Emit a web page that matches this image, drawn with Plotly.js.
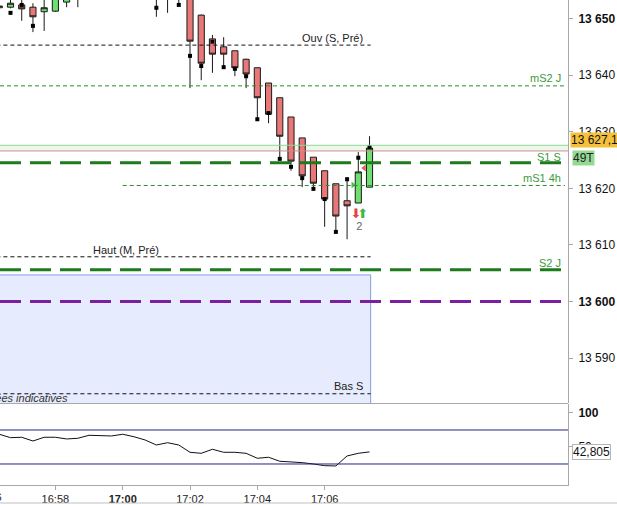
<!DOCTYPE html>
<html><head><meta charset="utf-8">
<script src="https://cdn.plot.ly/plotly-3.0.1.min.js"></script>
<style>html,body{margin:0;padding:0;background:#fff;overflow:hidden}#chart{width:617px;height:505px}</style>
</head><body><div id="chart"></div>
<script>
// ---- data ----
const candleIdx = [-1,0,1,2,3,4,5,6,7,8,9,10,11,12,13,14,15,16,17,18,19,20,21,22,23,24,25,26,27,28,29,30,31,32];
const opens  = [13651.9,13652.0,13652.4,13652.0,13651.2,13651.3,13652.9,13655.8,13657.5,13659.4,13661.0,13659.2,13660.3,13657.1,13656.0,13655.6,13654.4,13655.3,13650.6,13646.4,13645.0,13644.3,13642.8,13641.3,13638.6,13636.0,13632.6,13628.9,13625.5,13623.1,13620.8,13617.8,13617.4,13620.2];
const highs  = [13652.6,13653.8,13653.6,13652.7,13653.6,13655.0,13656.5,13658.4,13660.2,13662.1,13663.0,13661.4,13661.0,13658.9,13657.4,13656.4,13656.0,13656.0,13650.7,13647.1,13646.7,13644.3,13642.9,13641.3,13638.6,13636.0,13632.6,13628.9,13625.5,13623.1,13620.8,13622.0,13626.4,13629.2];
const lows   = [13651.5,13651.8,13649.6,13647.6,13647.8,13651.2,13652.0,13652.0,13655.6,13657.3,13658.4,13656.8,13656.2,13655.0,13650.3,13651.0,13652.4,13637.7,13639.1,13640.4,13641.6,13639.8,13637.7,13632.2,13631.5,13625.2,13623.1,13620.2,13619.9,13613.2,13612.3,13611.0,13617.4,13620.2];
const closes = [13652.2,13652.7,13651.7,13650.3,13651.9,13654.2,13655.8,13657.5,13659.4,13661.0,13659.2,13660.3,13657.1,13656.0,13654.8,13654.4,13655.3,13646.0,13642.1,13643.7,13643.7,13641.3,13640.2,13636.0,13633.1,13629.2,13624.8,13622.2,13620.9,13618.1,13615.1,13616.9,13622.9,13627.1];

const squareIdx   = [0,1,2,13,15,16,17,18,19,20,21,22,23,24,25,26,27,28,29,30,31,32];
const squarePrice = [13651.0,13652.4,13648.7,13651.9,13652.4,13643.4,13641.6,13645.9,13641.4,13641.1,13639.8,13632.2,13633.3,13625.2,13623.8,13621.8,13619.9,13618.1,13612.3,13621.6,13625.4,13627.3];

const oscValues = [68.7,63.7,64.3,58.8,64.3,64.3,61.8,62.8,67.2,66.2,66.2,68.7,65.1,60.3,52.9,56.3,52.9,42.2,40.7,46.6,42.2,42.2,40.7,33.4,34.9,29.0,28.4,27.0,25.0,22.5,22.1,36.8,40.7,42.805];
const oscBands = [75, 25];

const levelNames  = ['Ouv (S, Pré)','mS2 J','S1 S','mS1 4h','Haut (M, Pré)','S2 J','','Bas S'];
const levelValues = [13645.3,13638.1,13624.5,13620.5,13607.9,13605.6,13600.0,13583.7];
const zoneTop = 13604.7;
const bidAsk = [13627.6, 13626.6];
const lastPrice = 13627.1;
const lastLabel = '13 627,1';
const tickCount = '49T';

const priceTicks = [13650,13640,13630,13620,13610,13600,13590];
const priceTickText = ['<b>13 650</b>','13 640','13 630','13 620','13 610','<b>13 600</b>','13 590'];
const oscTicks = [100, 50];
const oscTickText = ['<b>100</b>', '50'];
const timeIdx = [-2,4,10,16,22,28];
const timeText = ['16:56','16:58','<b>17:00</b>','17:02','17:04','17:06'];

const signalIdx = [30.8, 31.4];
const signalPrice = [13615.3, 13615.3];
const signalText = ['⬇','⬆'];
const signalCount = {idx: 31.1, price: 13613.2, text: '2'};
const execIdx = [30.53, 31.53];
const execPrice = [13620.6, 13623.6];

// ---- styles ----
const FONT = 'Liberation Sans, Arial, sans-serif';
const xRange = [-0.936, 49.69];
const yRange = [13582.07, 13653.27];
const y2Range = [-5.9, 113.2];
const GREEN_T = '#2e8b2e', GREEN_K = '#1d7a1d', LBL_G = '#3c9a3c';
const levelStyle = [
  {color:'#111', width:1, dash:'4px,3px', x0:-5, x1:32.1, xref:'x', lx:365/568, la:'right', lc:'#222', dy:7},
  {color:GREEN_T, width:1, dash:'4px,3px', x0:0, x1:565/568, xref:'paper', lx:563/568, la:'right', lc:LBL_G, dy:8},
  {color:GREEN_K, width:3, dash:'21px,9px', x0:0, x1:565/568, xref:'paper', lx:563/568, la:'right', lc:LBL_G, dy:6},
  {color:GREEN_T, width:1, dash:'4px,3px', x0:10, x1:49.42, xref:'x', lx:563/568, la:'right', lc:LBL_G, dy:7},
  {color:'#111', width:1, dash:'4px,3px', x0:-5, x1:32.1, xref:'x', lx:126/568, la:'center', lc:'#222', dy:7},
  {color:GREEN_K, width:3, dash:'21px,9px', x0:0, x1:565/568, xref:'paper', lx:563/568, la:'right', lc:LBL_G, dy:7},
  {color:'#7a1fa0', width:3, dash:'21px,9px', x0:0, x1:1, xref:'paper', lx:0, la:'right', lc:'#000', dy:0},
  {color:'#111', width:1, dash:'4px,3px', x0:-5, x1:32.1, xref:'x', lx:365/568, la:'right', lc:'#222', dy:8}
];

const shapes = [];
shapes.push({type:'rect', xref:'x', yref:'y', x0:-5, x1:32.1, y0:13570, y1:zoneTop,
  fillcolor:'#e6ecfd', line:{color:'#7f9fe0', width:1}, layer:'below'});
shapes.push({type:'rect', xref:'paper', yref:'y', x0:0, x1:1, y0:bidAsk[1], y1:bidAsk[0],
  fillcolor:'rgba(200,235,200,0.35)', line:{width:0}, layer:'below'});
shapes.push({type:'line', xref:'paper', yref:'y', x0:0, x1:1, y0:bidAsk[0], y1:bidAsk[0], line:{color:'#92d892', width:1}});
shapes.push({type:'line', xref:'paper', yref:'y', x0:0, x1:1, y0:bidAsk[1], y1:bidAsk[1], line:{color:'#d48a8a', width:1}});

const annotations = [];
levelValues.forEach((v,k)=>{
  const s = levelStyle[k];
  shapes.push({type:'line', xref:s.xref, yref:'y', x0:s.x0, x1:s.x1, y0:v, y1:v,
    line:{color:s.color, width:s.width, dash:s.dash}});
  if (levelNames[k]) {
    annotations.push({xref:'paper', yref:'y', x:s.lx, y:v, yshift:s.dy, xanchor:s.la, yanchor:'middle',
      text:levelNames[k], showarrow:false, font:{family:FONT, size:11, color:s.lc}});
  }
});
annotations.push({xref:'paper', yref:'y', x:70/568, y:levelValues[7], yshift:-4, xanchor:'right', yanchor:'middle',
  text:'<i>Données indicatives</i>', showarrow:false, font:{family:FONT, size:11, color:'#333'}});

oscBands.forEach(b=>shapes.push({type:'line', xref:'paper', yref:'y2', x0:0, x1:1, y0:b, y1:b, line:{color:'#23237d', width:1}}));
shapes.push({type:'line', xref:'paper', yref:'paper', x0:0, x1:1, y0:0.1680, y1:0.1680, line:{color:'#a8a8a8', width:1}});
shapes.push({type:'line', xref:'paper', yref:'paper', x0:0, x1:617/568, y0:-18/485, y1:-18/485, line:{color:'#c0c0c0', width:1}});

annotations.push({xref:'paper', yref:'y', x:570/568, y:lastPrice, xanchor:'left', yanchor:'bottom',
  text:lastLabel, showarrow:false, bgcolor:'#f5c13c', borderpad:0, font:{family:FONT, size:12, color:'#111'}});
annotations.push({xref:'paper', yref:'y', x:572/568, y:lastPrice, yshift:-2, xanchor:'left', yanchor:'top',
  text:tickCount, showarrow:false, bgcolor:'#93d993', borderpad:0, font:{family:FONT, size:12, color:'#222'}});
annotations.push({xref:'paper', yref:'y2', x:572/568, y:oscValues[oscValues.length-1], xanchor:'left', yanchor:'middle',
  text:String(oscValues[oscValues.length-1]).replace('.',','), showarrow:false, bgcolor:'#fff', bordercolor:'#b5b5b5', borderwidth:1, borderpad:0,
  font:{family:FONT, size:12, color:'#111'}});
annotations.push({xref:'paper', yref:'paper', x:(timeIdx[0]-xRange[0])/(xRange[1]-xRange[0]), y:-12/485, xanchor:'center', yanchor:'middle',
  text:timeText[0], showarrow:false, font:{family:FONT, size:11, color:'#222'}});

const traces = [
  {type:'candlestick', x:candleIdx, open:opens, high:highs, low:lows, close:closes, xaxis:'x', yaxis:'y',
   increasing:{line:{color:'#1a1a1a', width:1}, fillcolor:'#6fe06f'},
   decreasing:{line:{color:'#1a1a1a', width:1}, fillcolor:'#e87878'},
   whiskerwidth:0, hoverinfo:'skip', showlegend:false},
  {type:'scatter', mode:'markers', x:squareIdx, y:squarePrice, xaxis:'x', yaxis:'y',
   marker:{symbol:'square', size:4, color:'#000'}, hoverinfo:'skip', showlegend:false},
  {type:'scatter', mode:'markers', x:execIdx, y:execPrice, xaxis:'x', yaxis:'y',
   marker:{symbol:['triangle-right','triangle-left'], size:6, color:['#4cc04c','#e06060']}, hoverinfo:'skip', showlegend:false},
  {type:'scatter', mode:'text', x:signalIdx, y:signalPrice, text:signalText, xaxis:'x', yaxis:'y',
   textfont:{family:'DejaVu Sans', size:13, color:['#e04848','#3cb83c']}, hoverinfo:'skip', showlegend:false},
  {type:'scatter', mode:'text', x:[signalCount.idx], y:[signalCount.price], text:[signalCount.text], xaxis:'x', yaxis:'y',
   textfont:{family:FONT, size:11, color:'#666'}, hoverinfo:'skip', showlegend:false},
  {type:'scatter', mode:'lines', x:candleIdx, y:oscValues, xaxis:'x', yaxis:'y2',
   line:{color:'#111', width:1}, hoverinfo:'skip', showlegend:false}
];

const layout = {
  width:617, height:505, margin:{l:0, r:49, t:0, b:20},
  paper_bgcolor:'#fff', plot_bgcolor:'#fff', showlegend:false, boxgap:0.22,
  font:{family:FONT, size:12, color:'#111'},
  xaxis:{anchor:'y2', range:xRange, showgrid:false, zeroline:false, showline:true, linecolor:'#a8a8a8',
    tickvals:timeIdx, ticktext:timeText, ticks:'outside', ticklen:4, tickcolor:'#a8a8a8',
    tickfont:{family:FONT, size:11, color:'#222'}, rangeslider:{visible:false}, fixedrange:true},
  yaxis:{domain:[0.1691,1], range:yRange, side:'right', showgrid:false, zeroline:false, showline:true, linecolor:'#a8a8a8',
    tickvals:priceTicks, ticktext:priceTickText, ticks:'outside', ticklen:4, tickcolor:'#a8a8a8', ticklabelstandoff:3,
    tickfont:{family:FONT, size:12, color:'#111'}},
  yaxis2:{domain:[0,0.1670], range:y2Range, side:'right', showgrid:false, zeroline:false, showline:true, linecolor:'#a8a8a8',
    tickvals:oscTicks, ticktext:oscTickText, ticks:'outside', ticklen:4, tickcolor:'#a8a8a8', ticklabelstandoff:3,
    tickfont:{family:FONT, size:12, color:'#111'}},
  shapes:shapes, annotations:annotations
};

Plotly.newPlot('chart', traces, layout, {staticPlot:true, displayModeBar:false});
</script>
</body></html>
